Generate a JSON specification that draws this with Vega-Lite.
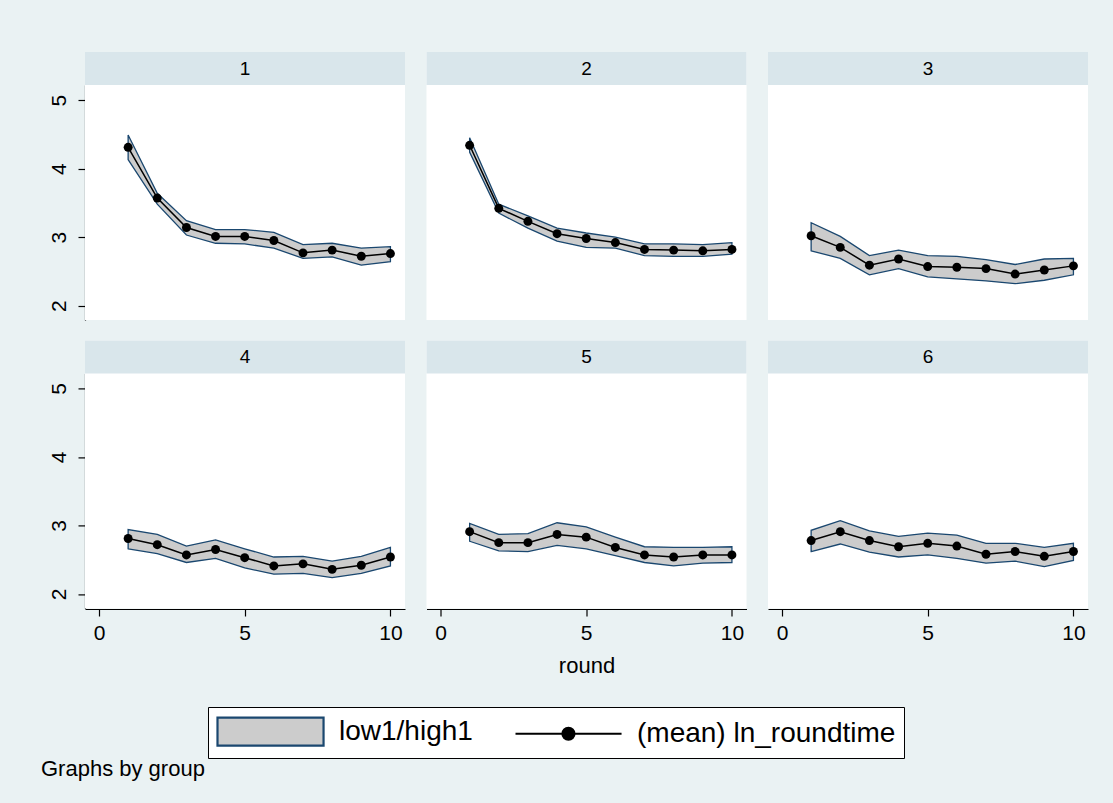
{
  "$schema": "https://vega.github.io/schema/vega-lite/v6.json",
  "background": "#eaf2f3",
  "padding": {"left": 40, "top": 50, "right": 25, "bottom": 25},
  "title": {"text": "Graphs by group", "orient": "bottom", "anchor": "start", "fontSize": 22, "fontWeight": "normal", "font": "Liberation Sans", "color": "#000000", "dx": -7, "offset": 0},
  "data": {"values": [
    {"group": 1, "round": 1, "mean": 4.31, "lo": 4.13, "hi": 4.49},
    {"group": 1, "round": 2, "mean": 3.57, "lo": 3.48, "hi": 3.64},
    {"group": 1, "round": 3, "mean": 3.14, "lo": 3.03, "hi": 3.24},
    {"group": 1, "round": 4, "mean": 3.01, "lo": 2.91, "hi": 3.11},
    {"group": 1, "round": 5, "mean": 3.01, "lo": 2.90, "hi": 3.11},
    {"group": 1, "round": 6, "mean": 2.95, "lo": 2.84, "hi": 3.07},
    {"group": 1, "round": 7, "mean": 2.77, "lo": 2.69, "hi": 2.89},
    {"group": 1, "round": 8, "mean": 2.81, "lo": 2.71, "hi": 2.91},
    {"group": 1, "round": 9, "mean": 2.72, "lo": 2.59, "hi": 2.84},
    {"group": 1, "round": 10, "mean": 2.76, "lo": 2.64, "hi": 2.86},
    {"group": 2, "round": 1, "mean": 4.34, "lo": 4.24, "hi": 4.45},
    {"group": 2, "round": 2, "mean": 3.42, "lo": 3.35, "hi": 3.48},
    {"group": 2, "round": 3, "mean": 3.23, "lo": 3.13, "hi": 3.31},
    {"group": 2, "round": 4, "mean": 3.05, "lo": 2.94, "hi": 3.13},
    {"group": 2, "round": 5, "mean": 2.98, "lo": 2.85, "hi": 3.06},
    {"group": 2, "round": 6, "mean": 2.92, "lo": 2.84, "hi": 3.00},
    {"group": 2, "round": 7, "mean": 2.82, "lo": 2.73, "hi": 2.90},
    {"group": 2, "round": 8, "mean": 2.81, "lo": 2.72, "hi": 2.90},
    {"group": 2, "round": 9, "mean": 2.80, "lo": 2.72, "hi": 2.89},
    {"group": 2, "round": 10, "mean": 2.82, "lo": 2.75, "hi": 2.92},
    {"group": 3, "round": 1, "mean": 3.02, "lo": 2.80, "hi": 3.21},
    {"group": 3, "round": 2, "mean": 2.85, "lo": 2.69, "hi": 3.01},
    {"group": 3, "round": 3, "mean": 2.59, "lo": 2.45, "hi": 2.73},
    {"group": 3, "round": 4, "mean": 2.68, "lo": 2.54, "hi": 2.81},
    {"group": 3, "round": 5, "mean": 2.57, "lo": 2.42, "hi": 2.73},
    {"group": 3, "round": 6, "mean": 2.56, "lo": 2.39, "hi": 2.72},
    {"group": 3, "round": 7, "mean": 2.54, "lo": 2.36, "hi": 2.67},
    {"group": 3, "round": 8, "mean": 2.46, "lo": 2.32, "hi": 2.60},
    {"group": 3, "round": 9, "mean": 2.52, "lo": 2.37, "hi": 2.68},
    {"group": 3, "round": 10, "mean": 2.58, "lo": 2.45, "hi": 2.69},
    {"group": 4, "round": 1, "mean": 2.81, "lo": 2.66, "hi": 2.94},
    {"group": 4, "round": 2, "mean": 2.72, "lo": 2.59, "hi": 2.87},
    {"group": 4, "round": 3, "mean": 2.57, "lo": 2.46, "hi": 2.70},
    {"group": 4, "round": 4, "mean": 2.65, "lo": 2.52, "hi": 2.79},
    {"group": 4, "round": 5, "mean": 2.53, "lo": 2.38, "hi": 2.66},
    {"group": 4, "round": 6, "mean": 2.41, "lo": 2.29, "hi": 2.54},
    {"group": 4, "round": 7, "mean": 2.44, "lo": 2.30, "hi": 2.55},
    {"group": 4, "round": 8, "mean": 2.36, "lo": 2.24, "hi": 2.48},
    {"group": 4, "round": 9, "mean": 2.42, "lo": 2.30, "hi": 2.55},
    {"group": 4, "round": 10, "mean": 2.54, "lo": 2.41, "hi": 2.68},
    {"group": 5, "round": 1, "mean": 2.91, "lo": 2.77, "hi": 3.03},
    {"group": 5, "round": 2, "mean": 2.75, "lo": 2.63, "hi": 2.87},
    {"group": 5, "round": 3, "mean": 2.75, "lo": 2.62, "hi": 2.88},
    {"group": 5, "round": 4, "mean": 2.87, "lo": 2.71, "hi": 3.04},
    {"group": 5, "round": 5, "mean": 2.83, "lo": 2.66, "hi": 2.98},
    {"group": 5, "round": 6, "mean": 2.68, "lo": 2.56, "hi": 2.83},
    {"group": 5, "round": 7, "mean": 2.57, "lo": 2.46, "hi": 2.69},
    {"group": 5, "round": 8, "mean": 2.54, "lo": 2.41, "hi": 2.68},
    {"group": 5, "round": 9, "mean": 2.57, "lo": 2.45, "hi": 2.68},
    {"group": 5, "round": 10, "mean": 2.57, "lo": 2.46, "hi": 2.69},
    {"group": 6, "round": 1, "mean": 2.78, "lo": 2.62, "hi": 2.93},
    {"group": 6, "round": 2, "mean": 2.91, "lo": 2.73, "hi": 3.07},
    {"group": 6, "round": 3, "mean": 2.78, "lo": 2.61, "hi": 2.92},
    {"group": 6, "round": 4, "mean": 2.69, "lo": 2.54, "hi": 2.84},
    {"group": 6, "round": 5, "mean": 2.74, "lo": 2.57, "hi": 2.89},
    {"group": 6, "round": 6, "mean": 2.70, "lo": 2.52, "hi": 2.86},
    {"group": 6, "round": 7, "mean": 2.58, "lo": 2.45, "hi": 2.74},
    {"group": 6, "round": 8, "mean": 2.62, "lo": 2.48, "hi": 2.74},
    {"group": 6, "round": 9, "mean": 2.55, "lo": 2.40, "hi": 2.68},
    {"group": 6, "round": 10, "mean": 2.62, "lo": 2.49, "hi": 2.74}
  ]},
  "facet": {
    "field": "group", "type": "ordinal",
    "header": {"labels": false, "labelExpr": "''", "labelFontSize": 1, "labelPadding": 0, "title": "round", "titleOrient": "bottom", "titleFontSize": 22, "titleFont": "Liberation Sans", "titleFontWeight": "normal", "titleColor": "#000000", "titlePadding": 13}
  },
  "columns": 3,
  "spacing": {"row": 18.4, "column": 21.5},
  "spec": {
    "width": 320,
    "height": 268,
    "layer": [
      {
        "transform": [{"filter": "datum.round == 1"}],
        "mark": {"type": "rect", "fill": "#d9e6eb"},
        "encoding": {
          "x": {"datum": -0.48, "type": "quantitative"},
          "x2": {"datum": 10.5},
          "y": {"datum": 5.22, "type": "quantitative"},
          "y2": {"datum": 5.702}
        }
      },
      {
        "transform": [{"filter": "datum.round == 1"}],
        "mark": {"type": "text", "fontSize": 19, "font": "Liberation Sans", "color": "#000000", "baseline": "middle", "align": "center"},
        "encoding": {
          "x": {"datum": 5.01, "type": "quantitative"},
          "y": {"datum": 5.46, "type": "quantitative"},
          "text": {"field": "group", "type": "nominal"}
        }
      },
      {
        "mark": {"type": "area", "fill": "#cccccc", "stroke": "#1a476f", "strokeWidth": 1.3},
        "encoding": {
          "x": {"field": "round", "type": "quantitative", "scale": {"domain": [-0.48, 10.5], "nice": false, "zero": false},
            "axis": {"values": [0, 5, 10], "title": null, "grid": false, "format": "d"}},
          "y": {"field": "lo", "type": "quantitative", "scale": {"domain": [1.79, 5.22], "range": [268, 33], "nice": false, "zero": false},
            "axis": {"values": [2, 3, 4, 5], "title": null, "labelAngle": 270, "format": "d", "labelPadding": 9}},
          "y2": {"field": "hi"}
        }
      },
      {
        "mark": {"type": "line", "color": "#000000", "strokeWidth": 1.5},
        "encoding": {
          "x": {"field": "round", "type": "quantitative"},
          "y": {"field": "mean", "type": "quantitative"}
        }
      },
      {
        "mark": {"type": "point", "filled": true, "color": "#000000", "opacity": 1, "size": 80},
        "encoding": {
          "x": {"field": "round", "type": "quantitative"},
          "y": {"field": "mean", "type": "quantitative"}
        }
      },
      {
        "transform": [{"filter": "false"}],
        "mark": {"type": "point", "filled": true, "opacity": 1},
        "encoding": {
          "x": {"field": "round", "type": "quantitative"},
          "y": {"field": "mean", "type": "quantitative"},
          "fill": {"datum": "low1/high1", "type": "nominal", "scale": {"domain": ["low1/high1", "(mean) ln_roundtime"], "range": ["#cccccc", "#000000"]},
            "legend": {"title": null, "orient": "none", "legendX": 123, "legendY": 655, "direction": "horizontal"}},
          "stroke": {"datum": "low1/high1", "type": "nominal", "scale": {"domain": ["low1/high1", "(mean) ln_roundtime"], "range": ["#1a476f", "#000000"]},
            "legend": {"title": null, "orient": "none", "legendX": 123, "legendY": 655, "direction": "horizontal"}},
          "shape": {"datum": "low1/high1", "type": "nominal", "scale": {"domain": ["low1/high1", "(mean) ln_roundtime"], "range": ["M-1,-0.93H6.07V0.93H-1Z", "M-1,0H6.07M2.13,0A0.4,0.4,0,1,0,2.93,0A0.4,0.4,0,1,0,2.13,0Z"]},
            "legend": {"title": null, "orient": "none", "legendX": 123, "legendY": 655, "direction": "horizontal"}}
        }
      },
      {
        "transform": [{"filter": "false"}],
        "mark": {"type": "point", "filled": true, "opacity": 1},
        "encoding": {
          "x": {"field": "round", "type": "quantitative"},
          "y": {"field": "mean", "type": "quantitative"},
          "fill": {"datum": "(mean) ln_roundtime", "type": "nominal"},
          "stroke": {"datum": "(mean) ln_roundtime", "type": "nominal"},
          "shape": {"datum": "(mean) ln_roundtime", "type": "nominal"}
        }
      }
    ]
  },
  "config": {
    "font": "Liberation Sans",
    "view": {"fill": "#ffffff", "stroke": null},
    "axis": {
      "domainColor": "#000000", "domainWidth": 1.2, "tickColor": "#000000", "tickSize": 7, "tickWidth": 1.2,
      "labelFont": "Liberation Sans", "labelFontSize": 21, "labelColor": "#000000", "labelPadding": 6,
      "gridColor": "#eaf2f3", "gridWidth": 1.2
    },
    "legend": {
      "symbolSize": 900, "symbolStrokeWidth": 2.2, "labelFontSize": 28, "labelFont": "Liberation Sans", "labelColor": "#000000", "labelLimit": 500,
      "labelOffset": 90, "columnPadding": 38, "strokeColor": "#000000", "fillColor": "#ffffff", "padding": 8, "symbolOpacity": 1, "cornerRadius": 0
    }
  }
}
